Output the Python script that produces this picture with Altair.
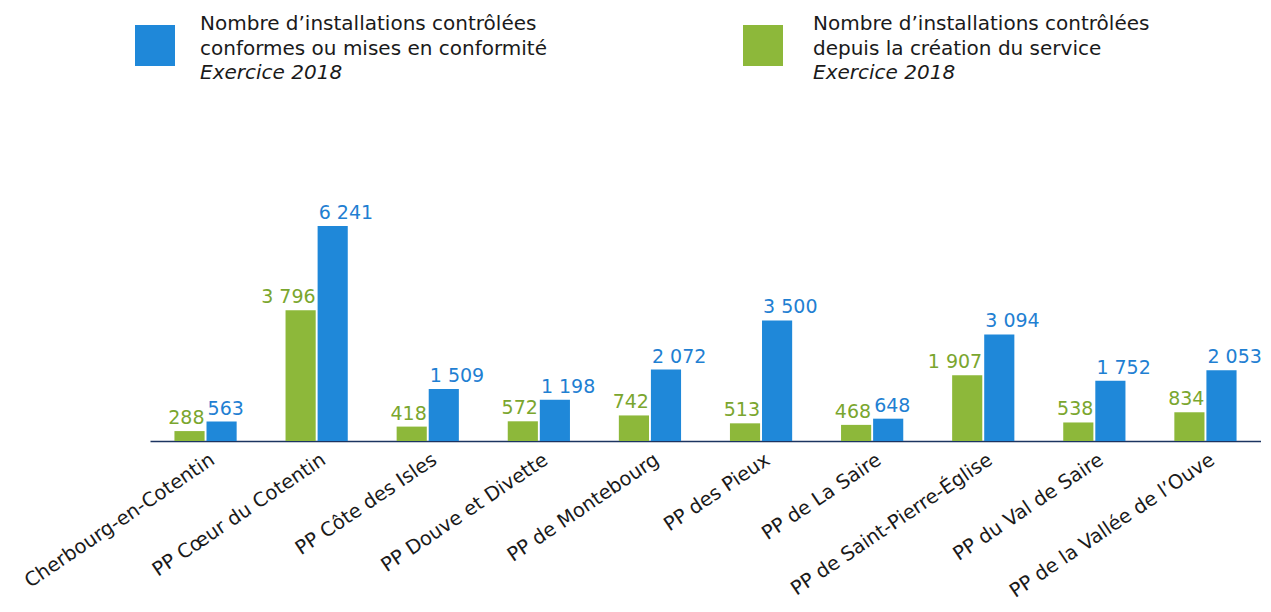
import altair as alt
import pandas as pd

categories = [
    "Cherbourg-en-Cotentin",
    "PP Cœur du Cotentin",
    "PP Côte des Isles",
    "PP Douve et Divette",
    "PP de Montebourg",
    "PP des Pieux",
    "PP de La Saire",
    "PP de Saint-Pierre-Église",
    "PP du Val de Saire",
    "PP de la Vallée de l’Ouve",
]
green_values = [288, 3796, 418, 572, 742, 513, 468, 1907, 538, 834]
blue_values = [563, 6241, 1509, 1198, 2072, 3500, 648, 3094, 1752, 2053]

series_order = ["green", "blue"]
bar_colors = ["#8db83a", "#1f88d9"]
text_colors = {"green": "#7aa62e", "blue": "#1f80d2"}

legend_blue = ["Nombre d’installations contrôlées", "conformes ou mises en conformité", "Exercice 2018"]
legend_green = ["Nombre d’installations contrôlées", "depuis la création du service", "Exercice 2018"]

FONT = "DejaVu Sans"

rows = []
for c, g, b in zip(categories, green_values, blue_values):
    rows.append({"cat": c, "series": "green", "value": g})
    rows.append({"cat": c, "series": "blue", "value": b})
df = pd.DataFrame(rows)
df["label"] = df["value"].map(lambda v: f"{v:,}".replace(",", " "))

x_enc = alt.X(
    "cat:N",
    sort=categories,
    scale=alt.Scale(paddingInner=0.44, paddingOuter=0.22),
    axis=alt.Axis(
        title=None,
        labelAngle=-34,
        labelAlign="right",
        labelBaseline="top",
        labelFontSize=19.5,
        labelFont=FONT,
        labelColor="#1a1a1a",
        labelLimit=500,
        labelOverlap=False,
        labelPadding=9,
        labelOffset=2,
        ticks=False,
        domainColor="#1c3461",
        domainWidth=1.6,
        grid=False,
    ),
)
xoff_enc = alt.XOffset("series:N", sort=series_order, scale=alt.Scale(paddingInner=0.06))
y_enc = alt.Y("value:Q", scale=alt.Scale(domain=[0, 12569], nice=False, zero=True), axis=None)

base = alt.Chart(df)

bars = base.mark_bar().encode(
    x=x_enc,
    xOffset=xoff_enc,
    y=y_enc,
    color=alt.Color("series:N", scale=alt.Scale(domain=series_order, range=bar_colors), legend=None),
)

green_text = base.transform_filter(alt.datum.series == "green").mark_text(
    align="right", baseline="alphabetic", dx=15, dy=-7, fontSize=19, font=FONT, color=text_colors["green"]
).encode(x=x_enc, xOffset=xoff_enc, y=y_enc, text="label:N")

blue_text = base.transform_filter(alt.datum.series == "blue").mark_text(
    align="left", baseline="alphabetic", dx=-14, dy=-7, fontSize=19, font=FONT, color=text_colors["blue"]
).encode(x=x_enc, xOffset=xoff_enc, y=y_enc, text="label:N")

one = alt.Data(values=[{"k": 1}])


def legend_block(x_sq, x_txt, color, lines):
    sq = alt.Chart(one).mark_rect(color=color).encode(
        x=alt.value(x_sq), x2=alt.value(x_sq + 40), y=alt.value(17), y2=alt.value(58)
    )
    layers = [sq]
    for i, (txt, ypos) in enumerate(zip(lines, [22, 47, 71])):
        layers.append(
            alt.Chart(one).mark_text(
                align="left",
                baseline="alphabetic",
                fontSize=20,
                font=FONT,
                color="#1a1a1a",
                fontStyle="italic" if i == 2 else "normal",
            ).encode(x=alt.value(x_txt), y=alt.value(ypos), text=alt.value(txt))
        )
    return layers


legend_layers = legend_block(-15, 50, bar_colors[1], legend_blue) + legend_block(593, 663, bar_colors[0], legend_green)

chart = alt.layer(bars, green_text, blue_text, *legend_layers).properties(
    width=1111,
    height=433,
    autosize=alt.AutoSizeParams(type="none"),
    padding={"left": 142, "top": 0, "right": 0, "bottom": 163},
).configure_view(stroke=None)

chart.save("out.html", embed_options={"renderer": "svg", "actions": False})
